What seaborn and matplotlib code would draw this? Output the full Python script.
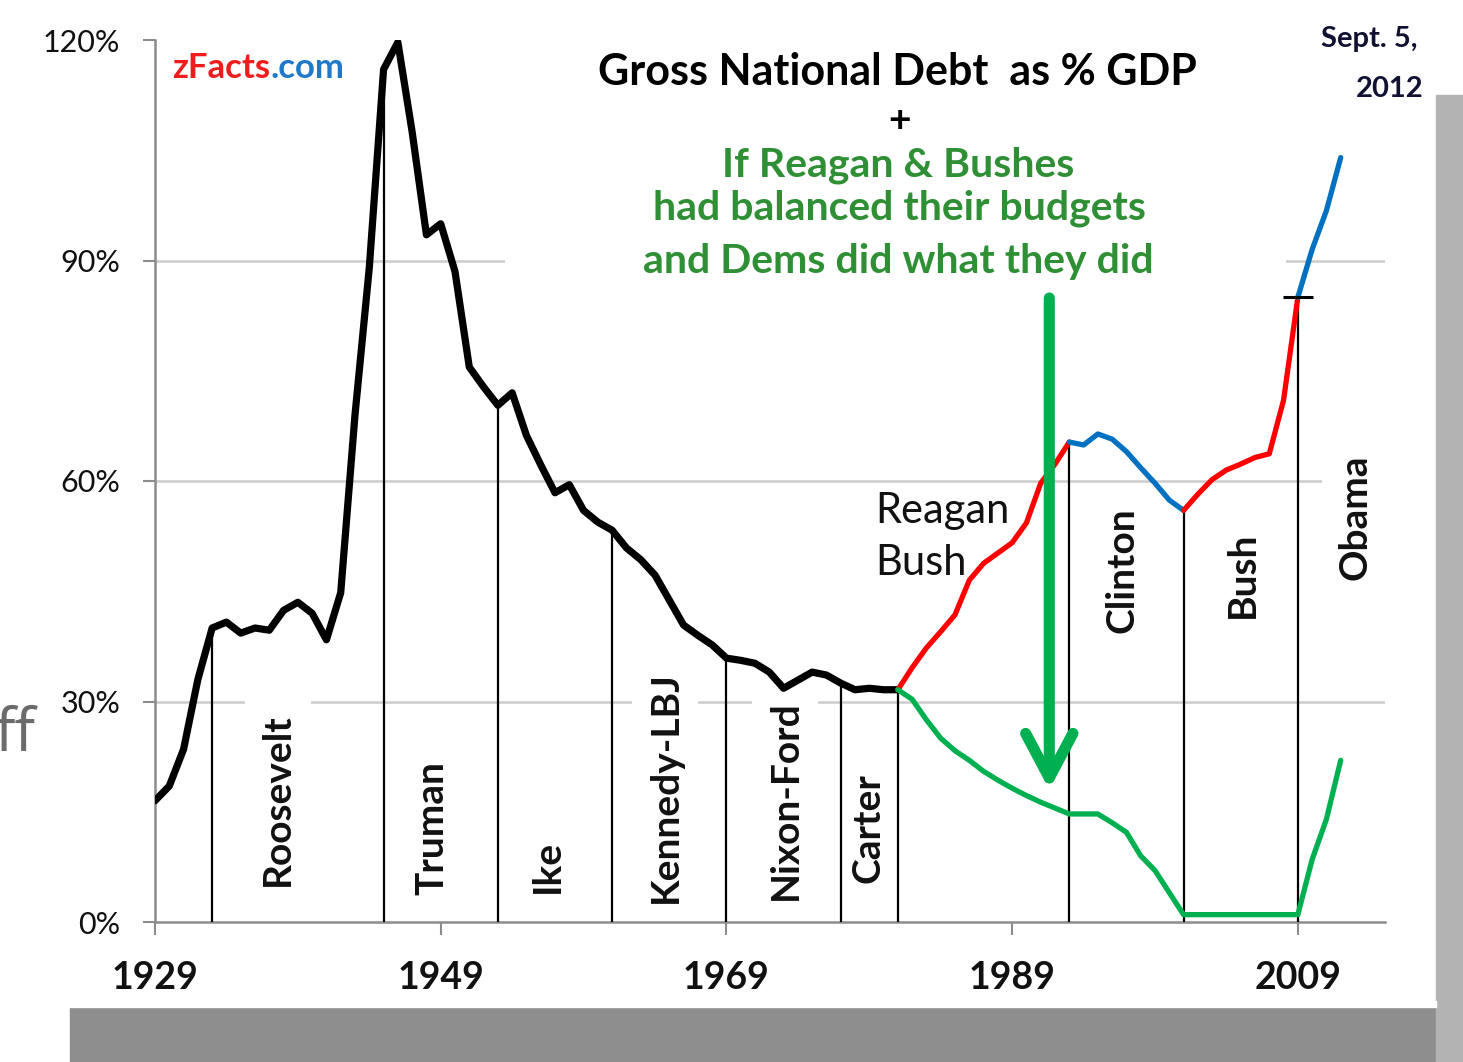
import numpy as np
import pandas as pd
import matplotlib
matplotlib.use("Agg")
import matplotlib.pyplot as plt
from matplotlib.patches import Rectangle
import seaborn as sns

# ---------------- data ----------------
years_hist = list(range(1929, 1982))
debt_hist = [16.5, 18.5, 23.5, 33.0, 40.0, 40.8, 39.3, 40.0, 39.7, 42.4,
             43.5, 42.0, 38.4, 44.8, 69.0, 89.0, 116.0, 119.7, 107.5, 93.5,
             95.0, 88.5, 75.5, 72.8, 70.3, 72.0, 66.2, 62.2, 58.4, 59.5,
             56.0, 54.4, 53.3, 50.9, 49.3, 47.2, 43.8, 40.4, 39.0, 37.7,
             35.9, 35.6, 35.2, 34.0, 31.8, 32.9, 34.0, 33.6, 32.5, 31.6,
             31.8, 31.6, 31.6][:53]

years_rb = list(range(1981, 1994))
debt_rb = [31.6, 34.6, 37.3, 39.5, 41.8, 46.5, 48.8, 50.2, 51.6, 54.3, 59.7, 62.3, 65.3]

years_clinton = list(range(1993, 2002))
debt_clinton = [65.3, 64.9, 66.4, 65.7, 64.0, 61.8, 59.7, 57.4, 56.0]

years_bush = list(range(2001, 2010))
debt_bush = [56.0, 58.2, 60.2, 61.5, 62.3, 63.2, 63.7, 71.0, 85.0]

years_obama = [2009, 2010, 2011, 2012]
debt_obama = [85.0, 91.5, 96.8, 104.0]

years_alt = list(range(1981, 2013))
debt_alt = [31.6, 30.3, 27.5, 25.0, 23.3, 22.0, 20.5, 19.3, 18.2, 17.2,
            16.3, 15.5, 14.7, 14.7, 14.7, 13.5, 12.2, 9.0, 7.0, 4.0,
            1.0, 1.0, 1.0, 1.0, 1.0, 1.0, 1.0, 1.0, 1.0, 8.5,
            14.0, 22.0]

term_starts = [1933, 1945, 1953, 1961, 1969, 1977, 1981, 1993, 2001, 2009]
presidents = ["Roosevelt", "Truman", "Ike", "Kennedy-LBJ", "Nixon-Ford", "Carter",
              "Clinton", "Bush", "Obama"]
pres_label_x = [1937.6, 1948.4, 1956.5, 1964.7, 1973.1, 1978.9, 1996.7, 2005.1, 2013.0]
pres_label_y = [16.6, 12.8, 7.6, 18.4, 16.6, 12.8, 47.9, 47.3, 55.1]

x_ticks = [1929, 1949, 1969, 1989, 2009]
y_ticks = [0, 30, 60, 90, 120]
y_tick_labels = ["0%", "30%", "60%", "90%", "120%"]

# ---------------- styling ----------------
sns.set_theme(style="white")
plt.rcParams["font.family"] = ["Lato", "DejaVu Sans"]

RED = "#ff0000"
BLUE = "#0070c0"
GREEN = "#00b050"
GREEN_TXT = "#2e8f35"
GRID = "#cccccc"
SPINE = "#8c8c8c"

fig = plt.figure(figsize=(14.63, 10.62), dpi=100)
fig.patch.set_facecolor("white")
ax = fig.add_axes([155/1463, 1-922/1062, (1385-155)/1463, (922-40)/1062])
ax.set_facecolor("none")

# paper shadow decorations
fig.add_artist(Rectangle((70/1463, 0), 1, 55/1062, color="#8e8e8e", zorder=0))
fig.add_artist(Rectangle((1436/1463, 0), 1, (1062-95)/1062, color="#b3b3b3", zorder=0))
fig.add_artist(Rectangle((70/1463, 55/1062), 1366/1463, 6/1062, color="white", zorder=0.5))

# ---------------- lines ----------------
hist = pd.DataFrame({"year": years_hist, "pct": debt_hist})
sns.lineplot(data=hist, x="year", y="pct", color="black", lw=5.2, ax=ax,
             estimator=None, sort=False, zorder=6, solid_joinstyle="round",
             solid_capstyle="round")

segs = []
for name, yrs, vals in [("rb", years_rb, debt_rb), ("clinton", years_clinton, debt_clinton),
                        ("bush", years_bush, debt_bush), ("obama", years_obama, debt_obama),
                        ("alt", years_alt, debt_alt)]:
    segs.append(pd.DataFrame({"year": yrs, "pct": vals, "seg": name}))
seg_df = pd.concat(segs, ignore_index=True)
pal = {"rb": RED, "clinton": BLUE, "bush": RED, "obama": BLUE, "alt": GREEN}
sns.lineplot(data=seg_df, x="year", y="pct", hue="seg", palette=pal, lw=3.8, ax=ax,
             estimator=None, sort=False, legend=False, zorder=6,
             solid_joinstyle="round", solid_capstyle="round")

# presidential term divider lines (from axis up to the debt curve)
all_years = years_hist + years_rb + years_clinton + years_bush + years_obama
all_vals = debt_hist + debt_rb + debt_clinton + debt_bush + debt_obama
lookup = dict(zip(all_years, all_vals))
ax.vlines(term_starts, 0, [lookup[y] for y in term_starts], color="black", lw=1.6, zorder=4)

# Obama start marker
ax.plot([years_obama[0]], [debt_obama[0]], marker="_", ms=21, mew=2.2, color="black", zorder=7)

# ---------------- axes ----------------
ax.set_xlim(1929, 2015.1)
ax.set_ylim(0, 120)
ax.set_xticks(x_ticks)
ax.set_xticklabels([str(x) for x in x_ticks], fontsize=27, fontweight="bold", color="#111111")
ax.set_yticks(y_ticks)
ax.set_yticklabels(y_tick_labels, fontsize=22, color="#111111")
ax.tick_params(axis="x", direction="out", length=9, width=1.5, color=SPINE, pad=19, bottom=True)
ax.tick_params(axis="y", direction="out", length=9, width=1.5, color=SPINE, pad=16, left=True)
ax.set_xlabel("")
ax.set_ylabel("")
for s in ["top", "right"]:
    ax.spines[s].set_visible(False)
for s in ["left", "bottom"]:
    ax.spines[s].set_color(SPINE)
    ax.spines[s].set_linewidth(1.8)
ax.yaxis.grid(True, color=GRID, lw=1.8, zorder=1)
ax.set_axisbelow(True)
for gl, yv in zip(ax.get_ygridlines(), y_ticks):
    if yv in (0, 120):
        gl.set_visible(False)

# white box behind the title block (interrupts the 90% gridline)
ax.add_patch(Rectangle((1953.5, 86), 2008.2-1953.5, 34, facecolor="white",
                       edgecolor="none", zorder=2))

# ---------------- text ----------------
t1 = ax.text(1930.2, 116.2, "zFacts", color="#ee1c1c", fontsize=25, fontweight="bold",
             ha="left", va="center", zorder=8)
ax.annotate(".com", xy=(1, 0), xycoords=t1, color="#1f78c8", fontsize=25,
            fontweight="bold", ha="left", va="bottom", zorder=8)

ax.text(1981.0, 115.6, "Gross National Debt  as % GDP", fontsize=31, fontweight="bold",
        ha="center", va="center", color="black", zorder=8)
ax.text(1981.1, 109.1, "+", fontsize=28, fontweight="bold", ha="center", va="center",
        color="black", zorder=8)
ax.text(1981.0, 103.0, "If Reagan & Bushes", fontsize=29.5, fontweight="bold",
        ha="center", va="center", color=GREEN_TXT, zorder=8)
ax.text(1981.1, 97.1, "had balanced their budgets", fontsize=29.5, fontweight="bold",
        ha="center", va="center", color=GREEN_TXT, zorder=8)
ax.text(1981.0, 89.8, "and Dems did what they did", fontsize=29.5, fontweight="bold",
        ha="center", va="center", color=GREEN_TXT, zorder=8)

ax.text(2014.0, 120.2, "Sept. 5,", fontsize=21, fontweight="bold", ha="center",
        va="center", color="#111133", clip_on=False, zorder=8)
ax.text(2015.4, 113.4, "2012", fontsize=21, fontweight="bold", ha="center",
        va="center", color="#111133", clip_on=False, zorder=8)

ax.text(1979.4, 52.4, "Reagan\nBush", fontsize=30, ha="left", va="center",
        linespacing=1.45, color="#111111", zorder=8)

for name, lx, ly in zip(presidents, pres_label_x, pres_label_y):
    ax.text(lx, ly, name, rotation=90, fontsize=28, fontweight="bold", ha="center",
            va="center", color="#111111", zorder=3,
            bbox=dict(boxstyle="square,pad=0.4", facecolor="white", edgecolor="none"))

# green arrow
ax.annotate("", xy=(1991.6, 18.0), xytext=(1991.6, 84.9),
            arrowprops=dict(arrowstyle="->,head_length=1.6,head_width=0.85",
                            lw=8, color=GREEN, mutation_scale=20,
                            shrinkA=0, shrinkB=0), zorder=9)

# partial text from the slide behind
fig.text(-0.004, 1-735/1062, "ff", fontsize=44, color="#6b6b6b", ha="left", va="center",
         family=["Open Sans", "DejaVu Sans"])

fig.savefig("out.png", dpi=100, facecolor="white")
